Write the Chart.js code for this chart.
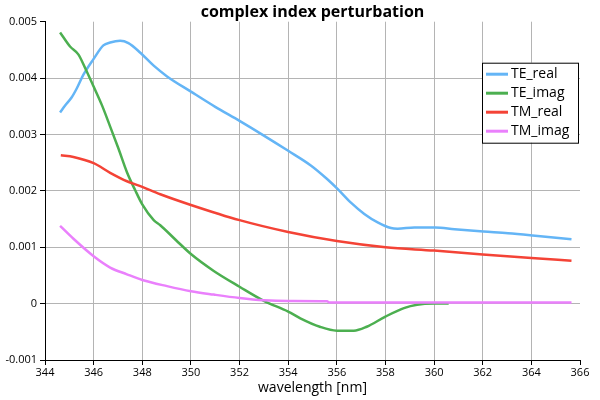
<!DOCTYPE html>
<html lang="en">
<head>
    <meta charset="UTF-8">
    <title>complex index perturbation</title>
    <script src="https://cdn.jsdelivr.net/npm/chart.js"></script>
    <style>
        html, body { margin: 0; padding: 0; background: #fff; }
        #wrap { width: 600px; height: 400px; }
    </style>
</head>
<body>
    <div id="wrap"><canvas id="chart"></canvas></div>

    <script>
        // wavelength [nm] and perturbation value for each curve
        const teRealX = [344.62, 344.82, 345.10, 345.31, 345.58, 346.00, 346.40, 346.68, 347.09, 347.43, 347.92, 348.47, 349.02, 350.00, 351.00, 352.00, 353.00, 354.00, 354.93, 355.60, 356.04, 356.58, 357.13, 357.68, 358.23, 358.50, 359.19, 360.05, 360.84, 362.03, 363.04, 364.05, 365.65];
        const teRealY = [0.00339, 0.00351, 0.00366, 0.00382, 0.00406, 0.00434, 0.00458, 0.00463, 0.00466, 0.00462, 0.00445, 0.00422, 0.00403, 0.00376, 0.00349, 0.00324, 0.00298, 0.00271, 0.00245, 0.00221, 0.00203, 0.00179, 0.00159, 0.00144, 0.00134, 0.00133, 0.00135, 0.00135, 0.00132, 0.00128, 0.00125, 0.00121, 0.00114];

        const teImagX = [344.62, 345.03, 345.37, 345.65, 346.00, 346.34, 346.68, 347.02, 347.37, 347.71, 348.00, 348.47, 348.74, 349.40, 350.00, 350.94, 352.00, 353.00, 354.00, 354.50, 355.30, 356.00, 356.70, 357.23, 358.00, 358.76, 359.30, 360.00, 360.60];
        const teImagY = [0.00481, 0.00456, 0.00442, 0.00418, 0.00385, 0.00352, 0.00314, 0.00275, 0.00233, 0.00201, 0.00176, 0.00148, 0.00139, 0.00112, 0.00088, 0.00058, 0.00030, 0.00005, -0.00014, -0.00026, -0.00041, -0.00048, -0.00048, -0.00041, -0.00023, -0.00008, -0.00002, 0.00000, 0.00000];

        const tmRealX = [344.65, 345.17, 346.00, 346.68, 347.37, 348.00, 348.74, 350.00, 352.00, 354.00, 356.00, 358.00, 360.00, 362.00, 364.00, 365.65];
        const tmRealY = [0.00263, 0.00260, 0.00249, 0.00232, 0.00217, 0.00207, 0.00194, 0.00175, 0.00148, 0.00127, 0.00111, 0.00100, 0.00094, 0.00087, 0.00081, 0.00076];

        const tmImagX = [344.62, 345.17, 346.00, 346.68, 347.37, 348.00, 349.02, 350.00, 350.94, 352.00, 353.00, 354.00, 355.60, 355.70, 360.00, 365.65];
        const tmImagY = [0.00138, 0.00115, 0.00084, 0.00064, 0.00052, 0.00042, 0.00031, 0.00022, 0.00016, 0.00010, 0.00006, 0.000045, 0.00004, 0.00002, 0.00002, 0.00002];

        const seriesNames = ['TE_real', 'TE_imag', 'TM_real', 'TM_imag'];
        const seriesColors = ['rgb(100, 181, 246)', 'rgb(76, 175, 80)', 'rgb(244, 67, 54)', 'rgb(234, 128, 252)'];

        const xTicks = [344, 346, 348, 350, 352, 354, 356, 358, 360, 362, 364, 366];
        const yTicks = [-0.001, 0, 0.001, 0.002, 0.003, 0.004, 0.005];
        const yTickLabels = ['-0.001', '0', '0.001', '0.002', '0.003', '0.004', '0.005'];

        const FONT = '"Open Sans", "Noto Sans", sans-serif';
        const GRID = 'rgb(180, 180, 180)';

        function toPoints(xs, ys) {
            return xs.map((x, i) => ({ x: x, y: ys[i] }));
        }

        const seriesData = [
            toPoints(teRealX, teRealY),
            toPoints(teImagX, teImagY),
            toPoints(tmRealX, tmRealY),
            toPoints(tmImagX, tmImagY)
        ];

        // legend box drawn inside the plot, upper right
        const boxLegend = {
            id: 'boxLegend',
            afterDatasetsDraw(chart) {
                const ctx = chart.ctx;
                const area = chart.chartArea;
                const w = 96, h = 80;
                const left = area.right - 2 - w;
                const top = area.top + 41;
                ctx.save();
                ctx.fillStyle = '#fff';
                ctx.fillRect(left, top, w, h);
                ctx.strokeStyle = '#000';
                ctx.lineWidth = 1;
                ctx.strokeRect(left + 0.5, top + 0.5, w, h);
                ctx.font = '14px ' + FONT;
                ctx.textBaseline = 'middle';
                ctx.textAlign = 'left';
                chart.data.datasets.forEach((ds, i) => {
                    const y = top + 11.5 + i * 19;
                    ctx.strokeStyle = ds.borderColor;
                    ctx.lineWidth = 3;
                    ctx.beginPath();
                    ctx.moveTo(left + 4, y);
                    ctx.lineTo(left + 26, y);
                    ctx.stroke();
                    ctx.fillStyle = '#000';
                    ctx.fillText(ds.label, left + 29, y);
                });
                ctx.restore();
            }
        };

        const chart = new Chart(document.getElementById('chart').getContext('2d'), {
            type: 'line',
            data: {
                datasets: seriesNames.map((name, i) => ({
                    label: name,
                    data: seriesData[i],
                    borderColor: seriesColors[i],
                    backgroundColor: seriesColors[i],
                    borderWidth: 2.5,
                    pointRadius: 0,
                    fill: false,
                    cubicInterpolationMode: 'monotone',
                    order: seriesNames.length - i
                }))
            },
            options: {
                responsive: true,
                maintainAspectRatio: false,
                animation: false,
                layout: { padding: { left: 0, right: 20, top: 0, bottom: 0 } },
                plugins: {
                    legend: { display: false },
                    tooltip: { enabled: false },
                    title: {
                        display: true,
                        fullSize: false,
                        text: 'complex index perturbation',
                        color: '#000',
                        font: { family: FONT, size: 16, weight: 'bold' },
                        padding: { top: 2.5, bottom: 0 }
                    }
                },
                scales: {
                    x: {
                        type: 'linear',
                        min: 344,
                        max: 366,
                        afterBuildTicks: s => { s.ticks = xTicks.map(v => ({ value: v })); },
                        afterFit: s => { s.height = 40; },
                        ticks: { color: '#000', font: { family: FONT, size: 11 }, padding: 1, maxRotation: 0 },
                        grid: {
                            color: c => (c.tick && c.tick.value === 366 ? 'rgba(0,0,0,0)' : GRID),
                            tickColor: '#000',
                            tickLength: 5
                        },
                        border: { color: '#000', width: 1 },
                        title: {
                            display: true,
                            text: 'wavelength [nm]',
                            color: '#000',
                            font: { family: FONT, size: 14 },
                            padding: { top: 0, bottom: 4 }
                        }
                    },
                    y: {
                        min: -0.001,
                        max: 0.005,
                        afterBuildTicks: s => { s.ticks = yTicks.map(v => ({ value: v })); },
                        afterFit: s => { s.width = 45; },
                        ticks: {
                            color: '#000',
                            font: { family: FONT, size: 11 },
                            padding: 3,
                            callback: (v, i) => yTickLabels[i]
                        },
                        grid: {
                            color: c => (c.tick && c.tick.value === 0.005 ? 'rgba(0,0,0,0)' : GRID),
                            tickColor: '#000',
                            tickLength: 5
                        },
                        border: { color: '#000', width: 1 }
                    }
                }
            },
            plugins: [boxLegend]
        });
    </script>
</body>
</html>
